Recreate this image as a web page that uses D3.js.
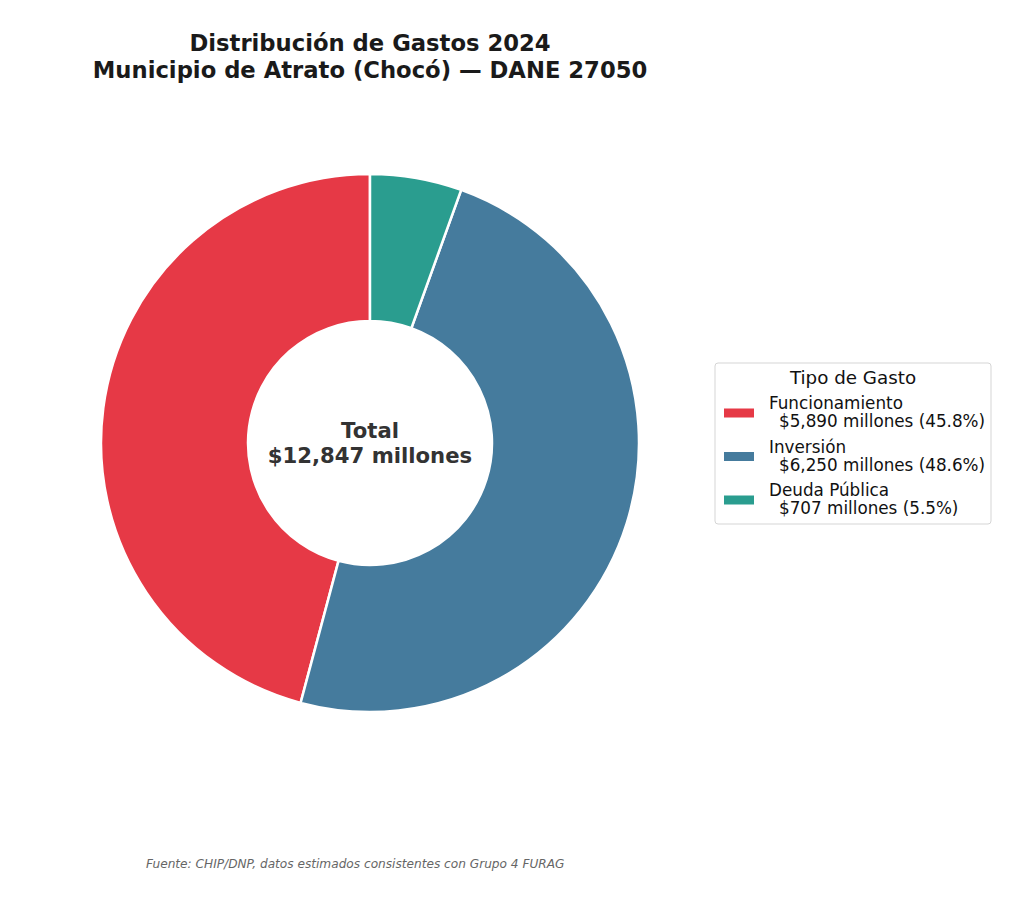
<!DOCTYPE html>
<html>
<head>
<meta charset="utf-8">
<script src="https://cdn.jsdelivr.net/npm/d3@7"></script>
<style>
  body { margin: 0; background: #fff; }
  text { font-family: "DejaVu Sans", sans-serif; }
</style>
</head>
<body>
<div id="chart"></div>
<script>
const categories = ["Funcionamiento", "Inversión", "Deuda Pública"];
const values = [5890, 6250, 707];
const colors = ["#E63946", "#457B9D", "#2A9D8F"];

const width = 1024, height = 904;
const cx = 370, cy = 443, outerR = 269, innerR = 122;

const total = d3.sum(values);
const fmt = d3.format(",");

const svg = d3.select("#chart")
  .append("svg")
  .attr("width", width)
  .attr("height", height);

// title
const title = svg.append("text")
  .attr("x", cx)
  .attr("text-anchor", "middle")
  .attr("font-weight", "bold")
  .attr("font-size", 22.7)
  .attr("fill", "#1a1a1a");
title.append("tspan").attr("x", cx).attr("y", 51).text("Distribución de Gastos 2024");
title.append("tspan").attr("x", cx).attr("y", 78).text("Municipio de Atrato (Chocó) — DANE 27050");

// donut, counter-clockwise from 12 o'clock
const pie = d3.pie().sort(null).startAngle(0).endAngle(-2 * Math.PI);
const arc = d3.arc().innerRadius(innerR).outerRadius(outerR);

const g = svg.append("g").attr("transform", `translate(${cx},${cy})`);
g.selectAll("path")
  .data(pie(values))
  .enter()
  .append("path")
  .attr("d", arc)
  .attr("fill", (d, i) => colors[i])
  .attr("stroke", "#fff")
  .attr("stroke-width", 2.5);

const center = g.append("text")
  .attr("text-anchor", "middle")
  .attr("font-weight", "bold")
  .attr("font-size", 21.2)
  .attr("fill", "#333");
center.append("tspan").attr("x", 0).attr("y", -5).text("Total");
center.append("tspan").attr("x", 0).attr("y", 20).text(`$${fmt(total)} millones`);

// legend
const lg = svg.append("g").attr("transform", "translate(715,363)");
lg.append("rect")
  .attr("width", 276).attr("height", 161)
  .attr("rx", 3)
  .attr("fill", "#fff")
  .attr("stroke", "#d5d5d5")
  .attr("stroke-width", 1);
lg.append("text")
  .attr("x", 138).attr("y", 21)
  .attr("text-anchor", "middle")
  .attr("font-size", 18.3)
  .attr("fill", "#111")
  .text("Tipo de Gasto");

const items = lg.selectAll(".item")
  .data(categories)
  .enter()
  .append("g")
  .attr("transform", (d, i) => `translate(0,${50 + i * 43.5})`);
items.append("rect")
  .attr("x", 9).attr("y", -4.5)
  .attr("width", 30).attr("height", 9)
  .attr("fill", (d, i) => colors[i]);
items.append("text")
  .attr("x", 54).attr("y", -4)
  .attr("font-size", 16.8)
  .attr("fill", "#111")
  .text(d => d);
items.append("text")
  .attr("x", 64).attr("y", 14)
  .attr("font-size", 16.8)
  .attr("fill", "#111")
  .text((d, i) => `$${fmt(values[i])} millones (${(values[i] / total * 100).toFixed(1)}%)`);

// footer
svg.append("text")
  .attr("x", 146).attr("y", 868)
  .attr("font-size", 12.15)
  .attr("font-style", "italic")
  .attr("fill", "#666")
  .text("Fuente: CHIP/DNP, datos estimados consistentes con Grupo 4 FURAG");
</script>
</body>
</html>
